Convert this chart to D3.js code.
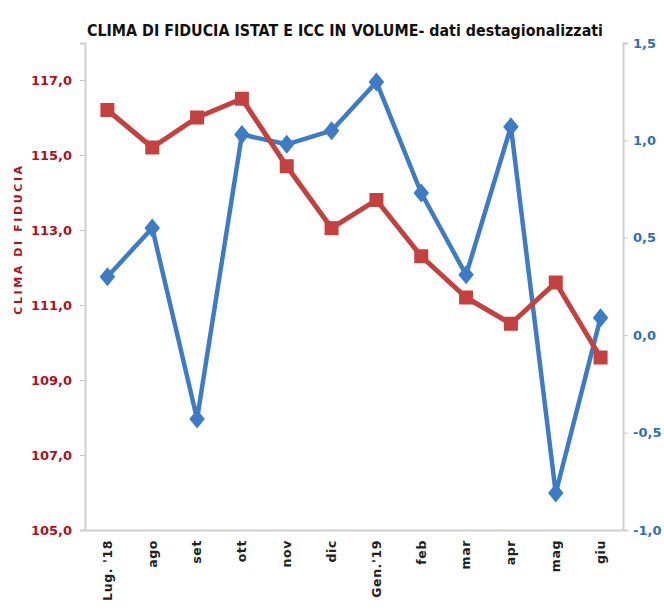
<!DOCTYPE html>
<html>
<head>
<meta charset="utf-8">
<script src="https://cdn.jsdelivr.net/npm/d3@7"></script>
<style>
  body { margin: 0; background: #fff; }
  svg text { font-family: "DejaVu Sans", Verdana, sans-serif; }
</style>
</head>
<body>
<div id="chart"></div>
<script>
// months on the x axis
var mesi = ["Lug. '18", "ago", "set", "ott", "nov", "dic", "Gen.'19", "feb", "mar", "apr", "mag", "giu"];
// clima di fiducia ISTAT (left axis)
var clima = [116.2, 115.2, 116.0, 116.5, 114.7, 113.05, 113.8, 112.3, 111.2, 110.5, 111.6, 109.6];
// ICC in volume (right axis)
var icc = [0.30, 0.55, -0.43, 1.03, 0.98, 1.05, 1.30, 0.73, 0.31, 1.07, -0.81, 0.09];
var leftTicks = [105, 107, 109, 111, 113, 115, 117];
var rightTicks = [-1.0, -0.5, 0.0, 0.5, 1.0, 1.5];

var width = 664, height = 612;
var margin = { top: 43, right: 41, bottom: 82, left: 85 };
var chartWidth = width - margin.left - margin.right;
var chartHeight = height - margin.top - margin.bottom;

var redCol = "#c4413f", blueCol = "#3d7cc4";
var redText = "#b0101c", blueText = "#2f6fb5";

var svg = d3.select("#chart").append("svg")
  .attr("width", width)
  .attr("height", height);

var chartGroup = svg.append("g")
  .attr("transform", `translate(${margin.left}, ${margin.top})`);

var xScale = d3.scaleBand()
  .domain(mesi)
  .range([0, chartWidth]);

var yLeft = d3.scaleLinear()
  .domain([105, 117 + 37 / 37.5])
  .range([chartHeight, 0]);

var yRight = d3.scaleLinear()
  .domain([-1.0, 1.5])
  .range([chartHeight, 0]);

var fmt = d => d.toFixed(1).replace(".", ",");

// left axis
var leftAxis = chartGroup.append("g")
  .call(d3.axisLeft(yLeft).tickValues(leftTicks).tickFormat(fmt).tickSize(5).tickPadding(8));
leftAxis.select(".domain").attr("stroke", "#d0d0d0").attr("stroke-width", 2);
leftAxis.selectAll(".tick line").attr("stroke", "#c8c8c8");
leftAxis.selectAll("text")
  .attr("fill", redText)
  .attr("font-size", 13)
  .attr("font-weight", "bold");

// right axis
var rightAxis = chartGroup.append("g")
  .attr("transform", `translate(${chartWidth}, 0)`)
  .call(d3.axisRight(yRight).tickValues(rightTicks).tickFormat(fmt).tickSize(5).tickPadding(5));
rightAxis.select(".domain").attr("stroke", "#d0d0d0").attr("stroke-width", 2);
rightAxis.selectAll(".tick line").attr("stroke", "#c8c8c8");
rightAxis.selectAll("text")
  .attr("fill", blueText)
  .attr("font-size", 13)
  .attr("font-weight", "bold");

// bottom axis
var xAxis = chartGroup.append("g")
  .attr("transform", `translate(0, ${chartHeight})`)
  .call(d3.axisBottom(xScale).tickSize(0).tickPadding(0));
xAxis.select(".domain").attr("stroke", "#d0d0d0").attr("stroke-width", 2);
xAxis.selectAll("text")
  .attr("transform", "rotate(-90)")
  .attr("text-anchor", "end")
  .attr("dy", "0.35em")
  .attr("x", -10)
  .attr("y", 0)
  .attr("fill", "#222")
  .attr("font-size", 12.5)
  .attr("font-weight", "bold")
  .attr("letter-spacing", 0.6);

var cx = d => xScale(d) + xScale.bandwidth() / 2;

// ICC line (blue)
chartGroup.append("path")
  .datum(icc)
  .attr("fill", "none")
  .attr("stroke", blueCol)
  .attr("stroke-width", 4.5)
  .attr("stroke-linejoin", "round")
  .attr("d", d3.line().x((d, i) => cx(mesi[i])).y(d => yRight(d)));

chartGroup.selectAll(".diamond")
  .data(icc)
  .enter()
  .append("path")
  .attr("class", "diamond")
  .attr("transform", (d, i) => `translate(${cx(mesi[i])}, ${yRight(d)}) scale(0.9, 1.1)`)
  .attr("d", d3.symbol().type(d3.symbolDiamond2).size(190))
  .attr("fill", blueCol);

// clima line (red)
chartGroup.append("path")
  .datum(clima)
  .attr("fill", "none")
  .attr("stroke", redCol)
  .attr("stroke-width", 5)
  .attr("stroke-linejoin", "round")
  .attr("d", d3.line().x((d, i) => cx(mesi[i])).y(d => yLeft(d)));

chartGroup.selectAll(".square")
  .data(clima)
  .enter()
  .append("rect")
  .attr("class", "square")
  .attr("x", (d, i) => cx(mesi[i]) - 7)
  .attr("y", d => yLeft(d) - 7)
  .attr("width", 14)
  .attr("height", 14)
  .attr("fill", redCol);

// title
svg.append("text")
  .attr("x", 345)
  .attr("y", 36)
  .attr("text-anchor", "middle")
  .attr("font-family", "'DejaVu Sans Condensed', 'DejaVu Sans', sans-serif")
  .attr("font-size", 15)
  .attr("font-weight", "bold")
  .attr("textLength", 516)
  .attr("lengthAdjust", "spacingAndGlyphs")
  .attr("fill", "#111")
  .text("CLIMA DI FIDUCIA ISTAT E ICC IN VOLUME- dati destagionalizzati");

// left axis title
svg.append("text")
  .attr("transform", "translate(22, 239) rotate(-90)")
  .attr("text-anchor", "middle")
  .attr("font-size", 11)
  .attr("font-weight", "bold")
  .attr("letter-spacing", 2.6)
  .attr("fill", redText)
  .text("CLIMA DI FIDUCIA");
</script>
</body>
</html>
